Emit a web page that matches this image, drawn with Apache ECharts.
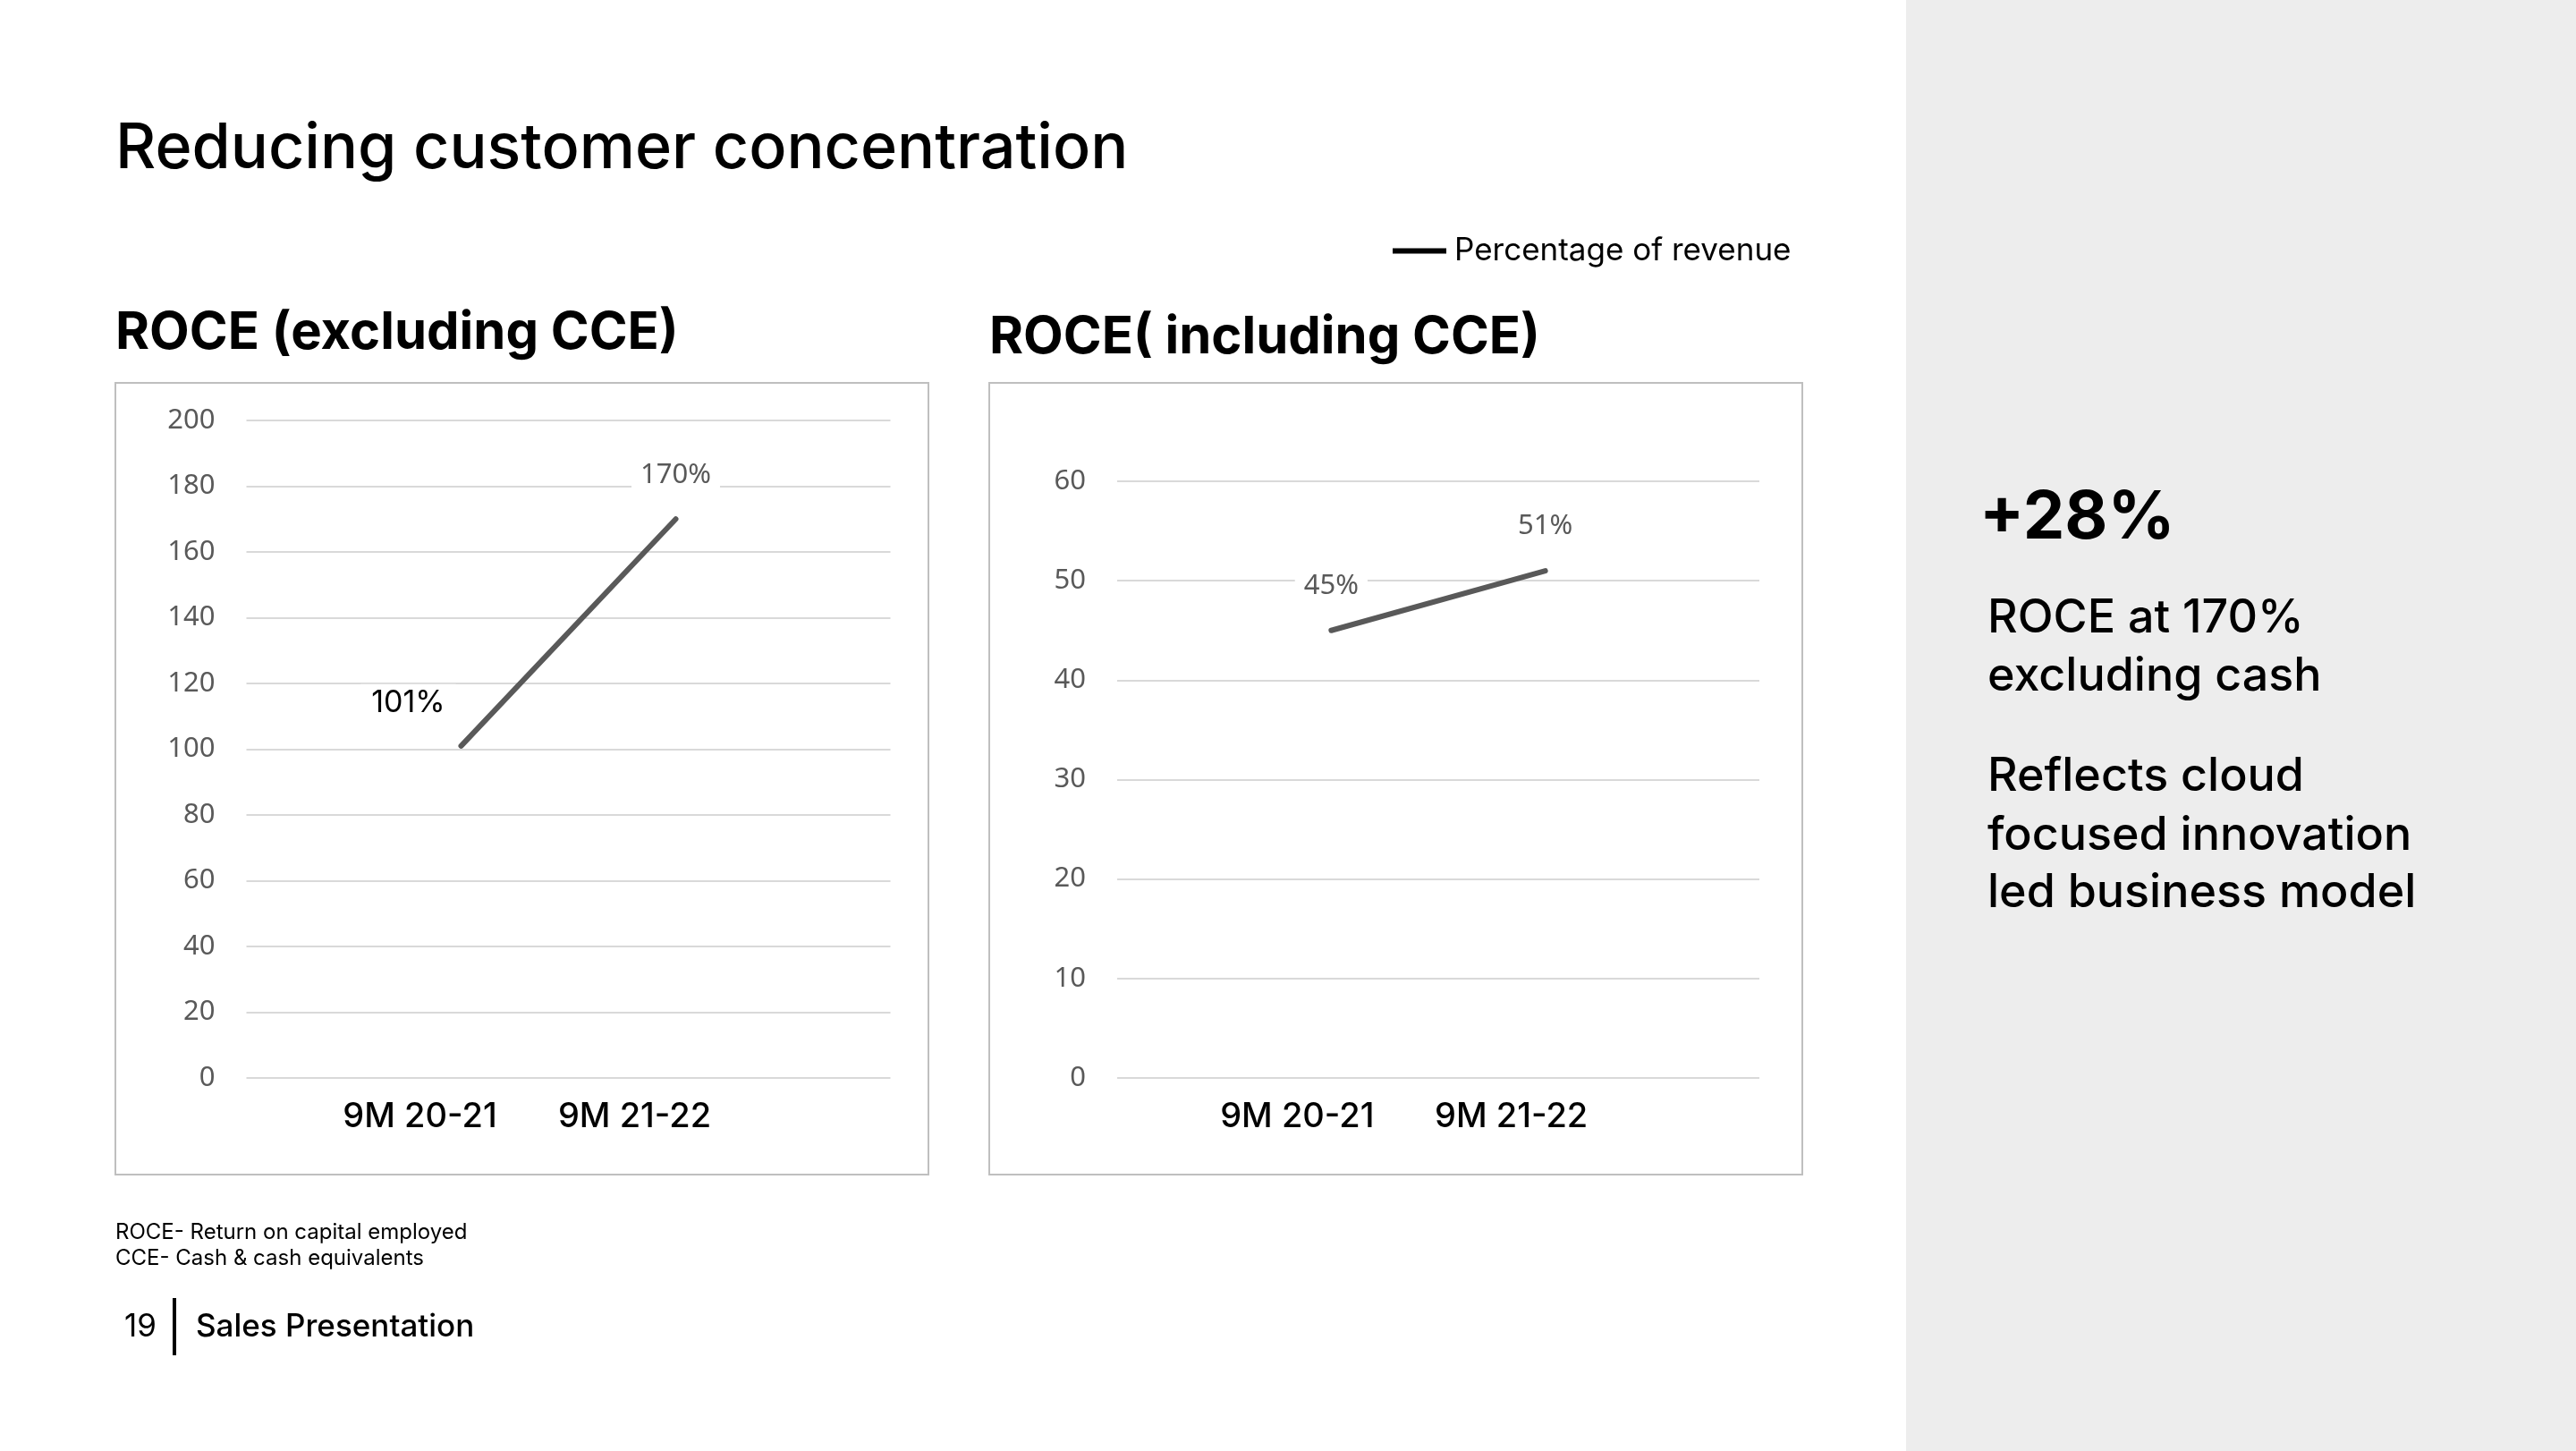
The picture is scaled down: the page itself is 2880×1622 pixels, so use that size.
<!DOCTYPE html>
<html>
<head>
<meta charset="utf-8">
<title>Reducing customer concentration</title>
<script src="https://cdn.jsdelivr.net/npm/echarts@6/dist/echarts.min.js"></script>
<style>
  html, body { margin: 0; padding: 0; background: #fff; }
  #chart { width: 2880px; height: 1622px; }
</style>
</head>
<body>
<div id="chart"></div>
<script>
// values
const categories = ['9M 20-21', '9M 21-22'];
const roceExcludingCce = [101, 170];
const roceIncludingCce = [45, 51];
const leftTicks = [0, 200, 20];   // min, max, step
const rightTicks = [0, 60, 10];
const seriesName = 'Percentage of revenue';

const HEAD = 'Inter, "Noto Sans", sans-serif';
const TICK = '"Noto Sans", "Open Sans", sans-serif';
const GREY = '#595959';

// point index -> [x, y]; x runs -1..2 so both points sit like the slide
const toPoints = vals => vals.map((v, i) => [i, v]);

function xAxisFor(gridIndex, shift) {
    return {
        type: 'value', gridIndex: gridIndex, min: -1, max: 2, interval: 1,
        axisLine: { show: false }, axisTick: { show: false }, splitLine: { show: false },
        axisLabel: {
            formatter: v => categories[v] || '',
            color: '#000', fontFamily: HEAD, fontSize: 38, fontWeight: 500,
            margin: 25, padding: [0, shift, 0, 0]
        }
    };
}

function yAxisFor(gridIndex, t) {
    return {
        type: 'value', gridIndex: gridIndex, min: t[0], max: t[1], interval: t[2],
        axisLine: { show: false }, axisTick: { show: false },
        splitLine: { lineStyle: { color: '#d9d9d9', width: 2 } },
        axisLabel: { color: GREY, fontFamily: TICK, fontSize: 31, margin: 35 }
    };
}

// labels need a symbol to hang on, so keep a tiny one in the line colour
function lineSeries(idx, vals, labels) {
    return {
        name: seriesName, type: 'line', xAxisIndex: idx, yAxisIndex: idx,
        symbol: 'circle', symbolSize: 4, showSymbol: true,
        lineStyle: { color: GREY, width: 6, cap: 'round' },
        itemStyle: { color: GREY },
        label: {
            show: true, position: 'top', distance: 28,
            formatter: p => p.value[1] + '%',
            backgroundColor: '#fff', padding: [4, 10],
            color: GREY, fontFamily: TICK, fontSize: 31
        },
        labelLayout: { hideOverlap: false },
        emphasis: { disabled: true },
        data: toPoints(vals).map((p, i) => Object.assign({ value: p }, labels[i] ? { label: labels[i] } : {}))
    };
}

const chart = echarts.init(document.getElementById('chart'), null, { renderer: 'canvas' });

const text = (x, y, str, size, weight) => ({
    type: 'text', x: x, y: y,
    style: { text: str, fill: '#000', font: weight + ' ' + size + 'px ' + HEAD, textVerticalAlign: 'middle' }
});

chart.setOption({
    backgroundColor: '#fff',
    animation: false,
    legend: {
        data: [seriesName], left: 1552, top: 258,
        icon: 'rect', itemWidth: 60, itemHeight: 6, itemGap: 14,
        itemStyle: { color: '#000' },
        textStyle: { color: '#000', fontFamily: HEAD, fontSize: 35, padding: [0, 0, 0, 4] },
        selectedMode: false
    },
    grid: [
        { left: 275.5, width: 720, top: 470, height: 735 },
        { left: 1249, width: 718, top: 538, height: 667 }
    ],
    xAxis: [xAxisFor(0, 92), xAxisFor(1, 76)],
    yAxis: [yAxisFor(0, leftTicks), yAxisFor(1, rightTicks)],
    series: [
        lineSeries(0, roceExcludingCce, [
            {
                position: [-57, -46], align: 'center', verticalAlign: 'middle',
                color: '#000', fontFamily: HEAD, fontSize: 34, padding: [4, 12]
            }
        ]),
        lineSeries(1, roceIncludingCce, [])
    ],
    graphic: [
        // side panel and chart frames
        { type: 'rect', shape: { x: 2131, y: 0, width: 749, height: 1622 }, style: { fill: '#ededed' }, z: -10 },
        { type: 'rect', shape: { x: 129, y: 428, width: 909, height: 885 }, style: { fill: 'none', stroke: '#bfbfbf', lineWidth: 2 }, z: -5 },
        { type: 'rect', shape: { x: 1106, y: 428, width: 909, height: 885 }, style: { fill: 'none', stroke: '#bfbfbf', lineWidth: 2 }, z: -5 },
        { type: 'rect', shape: { x: 193, y: 1451, width: 4, height: 64 }, style: { fill: '#000' } },

        text(129, 167, 'Reducing customer concentration', 70, 500),
        text(129, 373, 'ROCE (excluding CCE)', 58, 700),
        text(1106, 378, 'ROCE( including CCE)', 58, 700),

        text(2213, 580, '+28%', 74, 700),
        text(2222, 691, 'ROCE at 170%', 52, 500),
        text(2222, 756, 'excluding cash', 52, 500),
        text(2222, 868, 'Reflects cloud', 52, 500),
        text(2222, 934, 'focused innovation', 52, 500),
        text(2222, 998, 'led business model', 52, 500),

        text(129, 1378, 'ROCE- Return on capital employed', 24, 400),
        text(129, 1407, 'CCE- Cash & cash equivalents', 24, 400),
        text(139, 1483, '19', 35, 400),
        text(219, 1483, 'Sales Presentation', 35, 500)
    ]
});
</script>
</body>
</html>
